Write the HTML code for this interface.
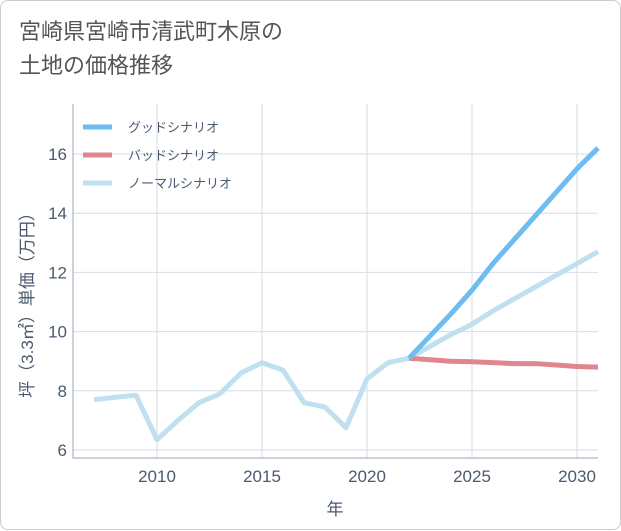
<!DOCTYPE html>
<html><head><meta charset="utf-8"><style>
body{margin:0;background:#fff;}
#wrap{position:relative;width:619px;height:528px;border:1px solid #ccc;border-radius:8px;background:#fff;font-family:"Liberation Sans","Noto Sans CJK JP",sans-serif;}
#title{position:absolute;left:18px;top:14px;font-size:22px;line-height:34px;color:#555;}
svg{position:absolute;left:0;top:0}
</style></head><body>
<div id="wrap">
<div id="title">宮崎県宮崎市清武町木原の<br>土地の価格推移</div>
<svg id="chart" width="621" height="530"></svg>
</div>
<script>
const years=[2007,2008,2009,2010,2011,2012,2013,2014,2015,2016,2017,2018,2019,2020,2021,2022,2023,2024,2025,2026,2027,2028,2029,2030,2031];
const normal=[7.7,7.78,7.85,6.35,7.0,7.6,7.9,8.6,8.95,8.7,7.6,7.45,6.75,8.4,8.95,9.1,9.5,9.9,10.25,10.7,11.1,11.5,11.9,12.3,12.7];
const futureYears=[2022,2023,2024,2025,2026,2027,2028,2029,2030,2031];
const good=[9.1,9.85,10.6,11.4,12.3,13.1,13.9,14.7,15.5,16.2];
const bad=[9.1,9.05,9.0,8.98,8.95,8.92,8.92,8.87,8.82,8.8];
const xTicks=[2010,2015,2020,2025,2030];
const yTicks=[6,8,10,12,14,16];
const L=72,R=597,T=103,B=457;
const x=v=>156+(v-2010)*21;
const y=v=>449-(v-6)*29.6;
const svg=document.getElementById('chart');
const NS='http://www.w3.org/2000/svg';
function mk(t,a){const e=document.createElementNS(NS,t);for(const k in a)e.setAttribute(k,a[k]);svg.appendChild(e);return e;}
yTicks.forEach(v=>{const g=mk('line',{x1:L,x2:R,y1:y(v),y2:y(v),stroke:'#d5dde6','stroke-width':1});

const t=mk('text',{x:66,y:y(v)+6,'text-anchor':'end','font-size':17,fill:'#4a5a70'});t.textContent=v;
});
xTicks.forEach(v=>{const g=mk('line',{x1:x(v),x2:x(v),y1:T,y2:B,stroke:'#d5dde6','stroke-width':1});

const t=mk('text',{x:x(v),y:481,'text-anchor':'middle','font-size':17,fill:'#4a5a70'});t.textContent=v;
});
const ax=mk('path',{d:`M${L} ${T}V${B}H${R}`,fill:'none',stroke:'#9aa5b1','stroke-width':1});

function line(xs,vs,c,n){const p=mk('polyline',{points:xs.map((a,i)=>x(a)+','+y(vs[i])).join(' '),fill:'none',stroke:c,'stroke-width':5,'stroke-linejoin':'round'});
}
line(years,normal,'#bfe0ef','normal-scenario-line');
line(futureYears,bad,'#e0868f','bad-scenario-line');
line(futureYears,good,'#6dbdf2','good-scenario-line');
const leg=[['グッドシナリオ','#6dbdf2',126],['バッドシナリオ','#e0868f',154],['ノーマルシナリオ','#bfe0ef',182]];
leg.forEach(l=>{const r=mk('line',{x1:82,x2:111,y1:l[2],y2:l[2],stroke:l[1],'stroke-width':5});

const t=mk('text',{x:127,y:l[2]+5,'font-size':13,fill:'#4a5a70'});t.textContent=l[0];
});
const yt=mk('text',{x:0,y:0,'font-size':17,fill:'#4a5a70','text-anchor':'middle',transform:'translate(32,300) rotate(-90)'});
yt.textContent='坪（3.3㎡）単価（万円）';
const xt=mk('text',{x:334,y:514,'font-size':17,fill:'#4a5a70','text-anchor':'middle'});
xt.textContent='年';
</script>
</body></html>
